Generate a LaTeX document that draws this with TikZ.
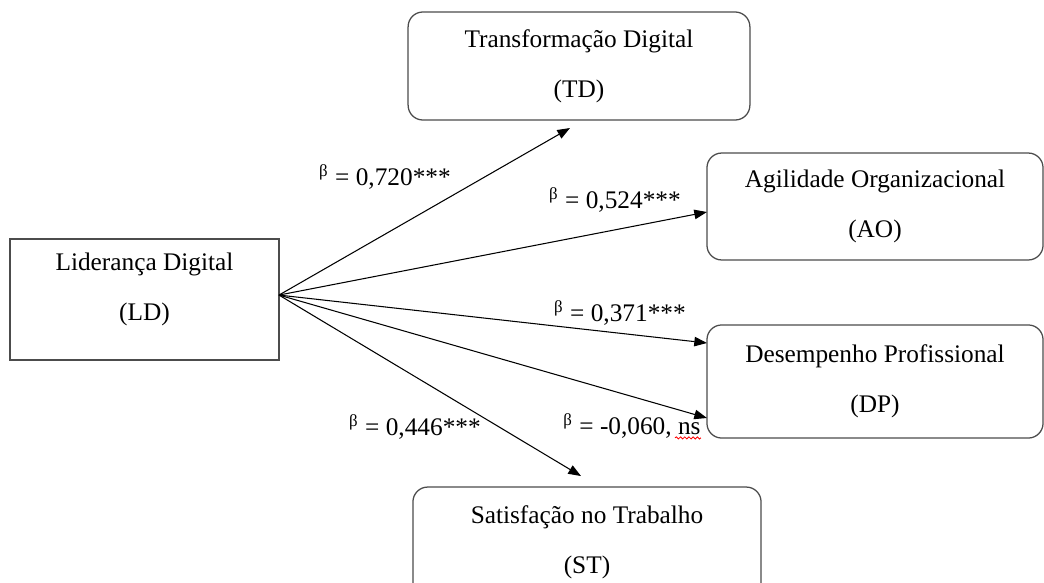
\documentclass[tikz,border=0pt]{standalone}
\usepackage{fontspec}
\setmainfont{Liberation Serif}
\usepackage{tikz}
\usetikzlibrary{arrows.meta,decorations.pathmorphing}

\begin{document}
\begin{tikzpicture}[x=0.474pt,y=-0.474pt,
    box/.style={draw=black!70,line width=0.6pt,align=center,inner sep=0pt,outer sep=0pt,font=\fontsize{12}{14.5}\selectfont},
    rbox/.style={box,rounded corners=7pt},
    boxtext/.style={align=center,inner sep=0pt,font=\fontsize{12}{14.5}\selectfont},
    coef/.style={inner sep=0pt,font=\fontsize{12}{14.5}\selectfont},
    path/.style={-{Triangle[length=6pt,width=4.5pt]},line width=0.5pt}]
    \useasboundingbox (0,0) rectangle (1044,583);
    \node[box,minimum width=127.5pt,minimum height=57.4pt,
      label={[boxtext,yshift=4.7pt]center:Liderança Digital\\[9pt](LD)}] (LD) at (144.5,299.5) {};
    \node[rbox,minimum width=162pt,minimum height=51.2pt] (TD) at (579,66) {Transformação Digital\\[9pt](TD)};
    \node[rbox,minimum width=159.3pt,minimum height=50.7pt] (AO) at (875,206.5) {Agilidade Organizacional\\[9pt](AO)};
    \node[rbox,minimum width=159.3pt,minimum height=53.6pt] (DP) at (875,381.5) {Desempenho Profissional\\[9pt](DP)};
    \node[rbox,minimum width=165pt,minimum height=52.1pt] (ST) at (587,542) {Satisfação no Trabalho\\[9pt](ST)};
    \node[coef] (bTD) at (385,177) {\textsuperscript{β} = 0,720***};
    \node[coef] (bAO) at (615,200) {\textsuperscript{β} = 0,524***};
    \node[coef] (bDP) at (620,313) {\textsuperscript{β} = 0,371***};
    \node[coef] (bDPST) at (632,426) {\textsuperscript{β} = -0,060, ns};
    \node[coef] (bST) at (415,427) {\textsuperscript{β} = 0,446***};
    \path[path]
    ([yshift=2.1pt]LD.east)
    edge ([shift={(-9,8)}]TD.south)
    edge ([shift={(0,5.5)}]AO.west)
    edge ([shift={(0,-38.5)}]DP.west)
    edge ([shift={(0,36.5)}]DP.west)
    edge ([shift={(-6,-11)}]ST.north)
    ;
    % spell-check mark under ns
    \draw[red,line width=0.4pt,decorate,decoration={snake,amplitude=0.5pt,segment length=2pt}]
    ([shift={(-26,-1)}]bDPST.south east) -- ([shift={(0,-1)}]bDPST.south east);
  \end{tikzpicture}
\end{document}
